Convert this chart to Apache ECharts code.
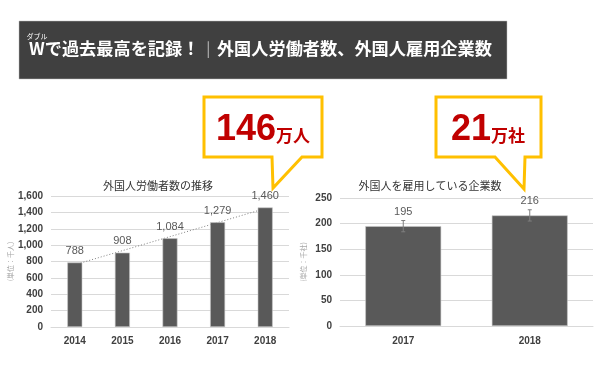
<!DOCTYPE html>
<html><head><meta charset="utf-8">
<script src="https://cdn.jsdelivr.net/npm/echarts@6/dist/echarts.min.js"></script>
<style>html,body{margin:0;padding:0;background:#fff}#c{width:600px;height:368px}</style>
</head><body><div id="c"></div>
<script>
// Left chart: foreign workers (thousands)
const workerYears = ['2014', '2015', '2016', '2017', '2018'];
const workerValues = [788, 908, 1084, 1279, 1460];
const workerTrend = [761, null, null, null, 1447]; // dotted trend line ends
const workerTicks = [0, 200, 400, 600, 800, 1000, 1200, 1400, 1600];

// Right chart: companies employing foreigners (thousands)
const companyYears = ['2017', '2018'];
const companyValues = [195, 216];
const companyError = [11, 11];
const companyTicks = [0, 50, 100, 150, 200, 250];

const headline = 'Wで過去最高を記録！';
const headline2 = '外国人労働者数、外国人雇用企業数';
const ruby = 'ダブル';
const call1Num = '146', call1Unit = '万人';
const call2Num = '21', call2Unit = '万社';

const JP = '"Noto Sans CJK JP", "Noto Sans", sans-serif';
const NUM = '"Liberation Sans", Arial, sans-serif';
const fmt = v => Number(v).toLocaleString('en-US');
const yellow = '#FFC000';
const red = '#C00000';

const chart = echarts.init(document.getElementById('c'), null, {renderer: 'canvas'});

const axisLabelStyle = {color: '#404040', fontSize: 10, fontFamily: NUM, fontWeight: 'bold'};

chart.setOption({
  animation: false,
  backgroundColor: '#ffffff',
  title: [
    {text: '外国人労働者数の推移', left: 153, top: 175, textAlign: 'center',
     textStyle: {fontFamily: JP, fontSize: 11, fontWeight: 'normal', color: '#333'}},
    {text: '外国人を雇用している企業数', left: 425, top: 175, textAlign: 'center',
     textStyle: {fontFamily: JP, fontSize: 11, fontWeight: 'normal', color: '#333'}}
  ],
  grid: [
    {left: 51, right: 311, top: 196, bottom: 41},
    {left: 340, right: 7, top: 198, bottom: 42}
  ],
  xAxis: [
    {type: 'category', gridIndex: 0, data: workerYears,
     axisLine: {lineStyle: {color: '#d9d9d9'}}, axisTick: {show: false},
     axisLabel: Object.assign({margin: 9}, axisLabelStyle)},
    {type: 'category', gridIndex: 1, data: companyYears,
     axisLine: {lineStyle: {color: '#d9d9d9'}}, axisTick: {show: false},
     axisLabel: Object.assign({margin: 10}, axisLabelStyle)}
  ],
  yAxis: [
    {type: 'value', gridIndex: 0, min: workerTicks[0], max: workerTicks[workerTicks.length - 1], interval: 200,
     name: '(単位：千人)', nameLocation: 'middle', nameRotate: 90, nameGap: 36,
     nameTextStyle: {fontFamily: JP, fontSize: 7, color: '#a6a6a6'},
     axisLine: {show: false}, axisTick: {show: false},
     splitLine: {lineStyle: {color: '#d9d9d9'}},
     axisLabel: Object.assign({formatter: fmt, margin: 8}, axisLabelStyle)},
    {type: 'value', gridIndex: 1, min: companyTicks[0], max: companyTicks[companyTicks.length - 1], interval: 50,
     name: '(単位：千社)', nameLocation: 'middle', nameRotate: 90, nameGap: 33,
     nameTextStyle: {fontFamily: JP, fontSize: 7, color: '#a6a6a6'},
     axisLine: {show: false}, axisTick: {show: false},
     splitLine: {lineStyle: {color: '#d9d9d9'}},
     axisLabel: Object.assign({formatter: fmt, margin: 8}, axisLabelStyle)}
  ],
  series: [
    {type: 'line', xAxisIndex: 0, yAxisIndex: 0, data: workerTrend, connectNulls: true,
     symbol: 'none', z: 1, lineStyle: {color: '#808080', width: 1, type: [1, 2]}},
    {type: 'bar', xAxisIndex: 0, yAxisIndex: 0, data: workerValues, barWidth: 15, z: 3,
     itemStyle: {color: '#595959', borderColor: '#c8c8c8', borderWidth: 0.6},
     label: {show: true, position: 'top', distance: 6, formatter: p => fmt(p.value),
             color: '#595959', fontSize: 11, fontFamily: NUM}},
    {type: 'bar', xAxisIndex: 1, yAxisIndex: 1, data: companyValues, barWidth: '60%', z: 3,
     itemStyle: {color: '#595959', borderColor: '#c8c8c8', borderWidth: 0.6},
     label: {show: true, position: 'top', distance: 9, formatter: p => fmt(p.value),
             color: '#595959', fontSize: 11, fontFamily: NUM}},
    {type: 'custom', xAxisIndex: 1, yAxisIndex: 1, z: 5,
     data: companyValues.map((v, i) => [i, v, companyError[i]]),
     renderItem: function (params, api) {
       const x = api.value(0), v = api.value(1), e = api.value(2);
       const hi = api.coord([x, v + e]), lo = api.coord([x, v - e]);
       const st = {stroke: '#7f7f7f', lineWidth: 1};
       const c = 2;
       return {type: 'group', children: [
         {type: 'line', shape: {x1: hi[0], y1: hi[1], x2: lo[0], y2: lo[1]}, style: st},
         {type: 'line', shape: {x1: hi[0] - c, y1: hi[1], x2: hi[0] + c, y2: hi[1]}, style: st},
         {type: 'line', shape: {x1: lo[0] - c, y1: lo[1], x2: lo[0] + c, y2: lo[1]}, style: st}
       ]};
     }}
  ],
  graphic: [
    {type: 'rect', shape: {x: 19, y: 21, width: 488, height: 58},
     style: {fill: '#404040', stroke: '#bfbfbf', lineWidth: 0.5}},
    {type: 'text', x: 37, y: 36, style: {text: ruby, fill: '#fff', font: '7px ' + JP, align: 'center', verticalAlign: 'middle'}},
    {type: 'text', x: 29, y: 48, style: {
      text: '{a|' + headline + '}{s|  |  }{a|' + headline2 + '}', verticalAlign: 'middle',
      rich: {a: {fill: '#fff', font: 'bold 17.2px ' + JP},
             s: {fill: '#bfbfbf', font: '15px ' + JP}}}},
    // callout 1
    {type: 'polygon', shape: {points: [[204, 97], [322, 97], [322, 157], [302, 157], [273, 188], [272, 157], [204, 157]]},
     style: {fill: '#fff', stroke: yellow, lineWidth: 3, lineJoin: 'miter'}},
    {type: 'text', x: 263, y: 148, style: {
      text: '{n|' + call1Num + '}{u|' + call1Unit + '}', align: 'center', verticalAlign: 'bottom',
      rich: {n: {fill: red, font: 'bold 36px ' + NUM}, u: {fill: red, font: 'bold 17px ' + JP, padding: [12, 0, 0, 0]}}}},
    // callout 2
    {type: 'polygon', shape: {points: [[436, 97], [541, 97], [541, 157], [525, 157], [524, 189], [495, 157], [436, 157]]},
     style: {fill: '#fff', stroke: yellow, lineWidth: 3, lineJoin: 'miter'}},
    {type: 'text', x: 488, y: 148, style: {
      text: '{n|' + call2Num + '}{u|' + call2Unit + '}', align: 'center', verticalAlign: 'bottom',
      rich: {n: {fill: red, font: 'bold 36px ' + NUM}, u: {fill: red, font: 'bold 17px ' + JP, padding: [12, 0, 0, 0]}}}}
  ]
});
</script>
</body></html>
